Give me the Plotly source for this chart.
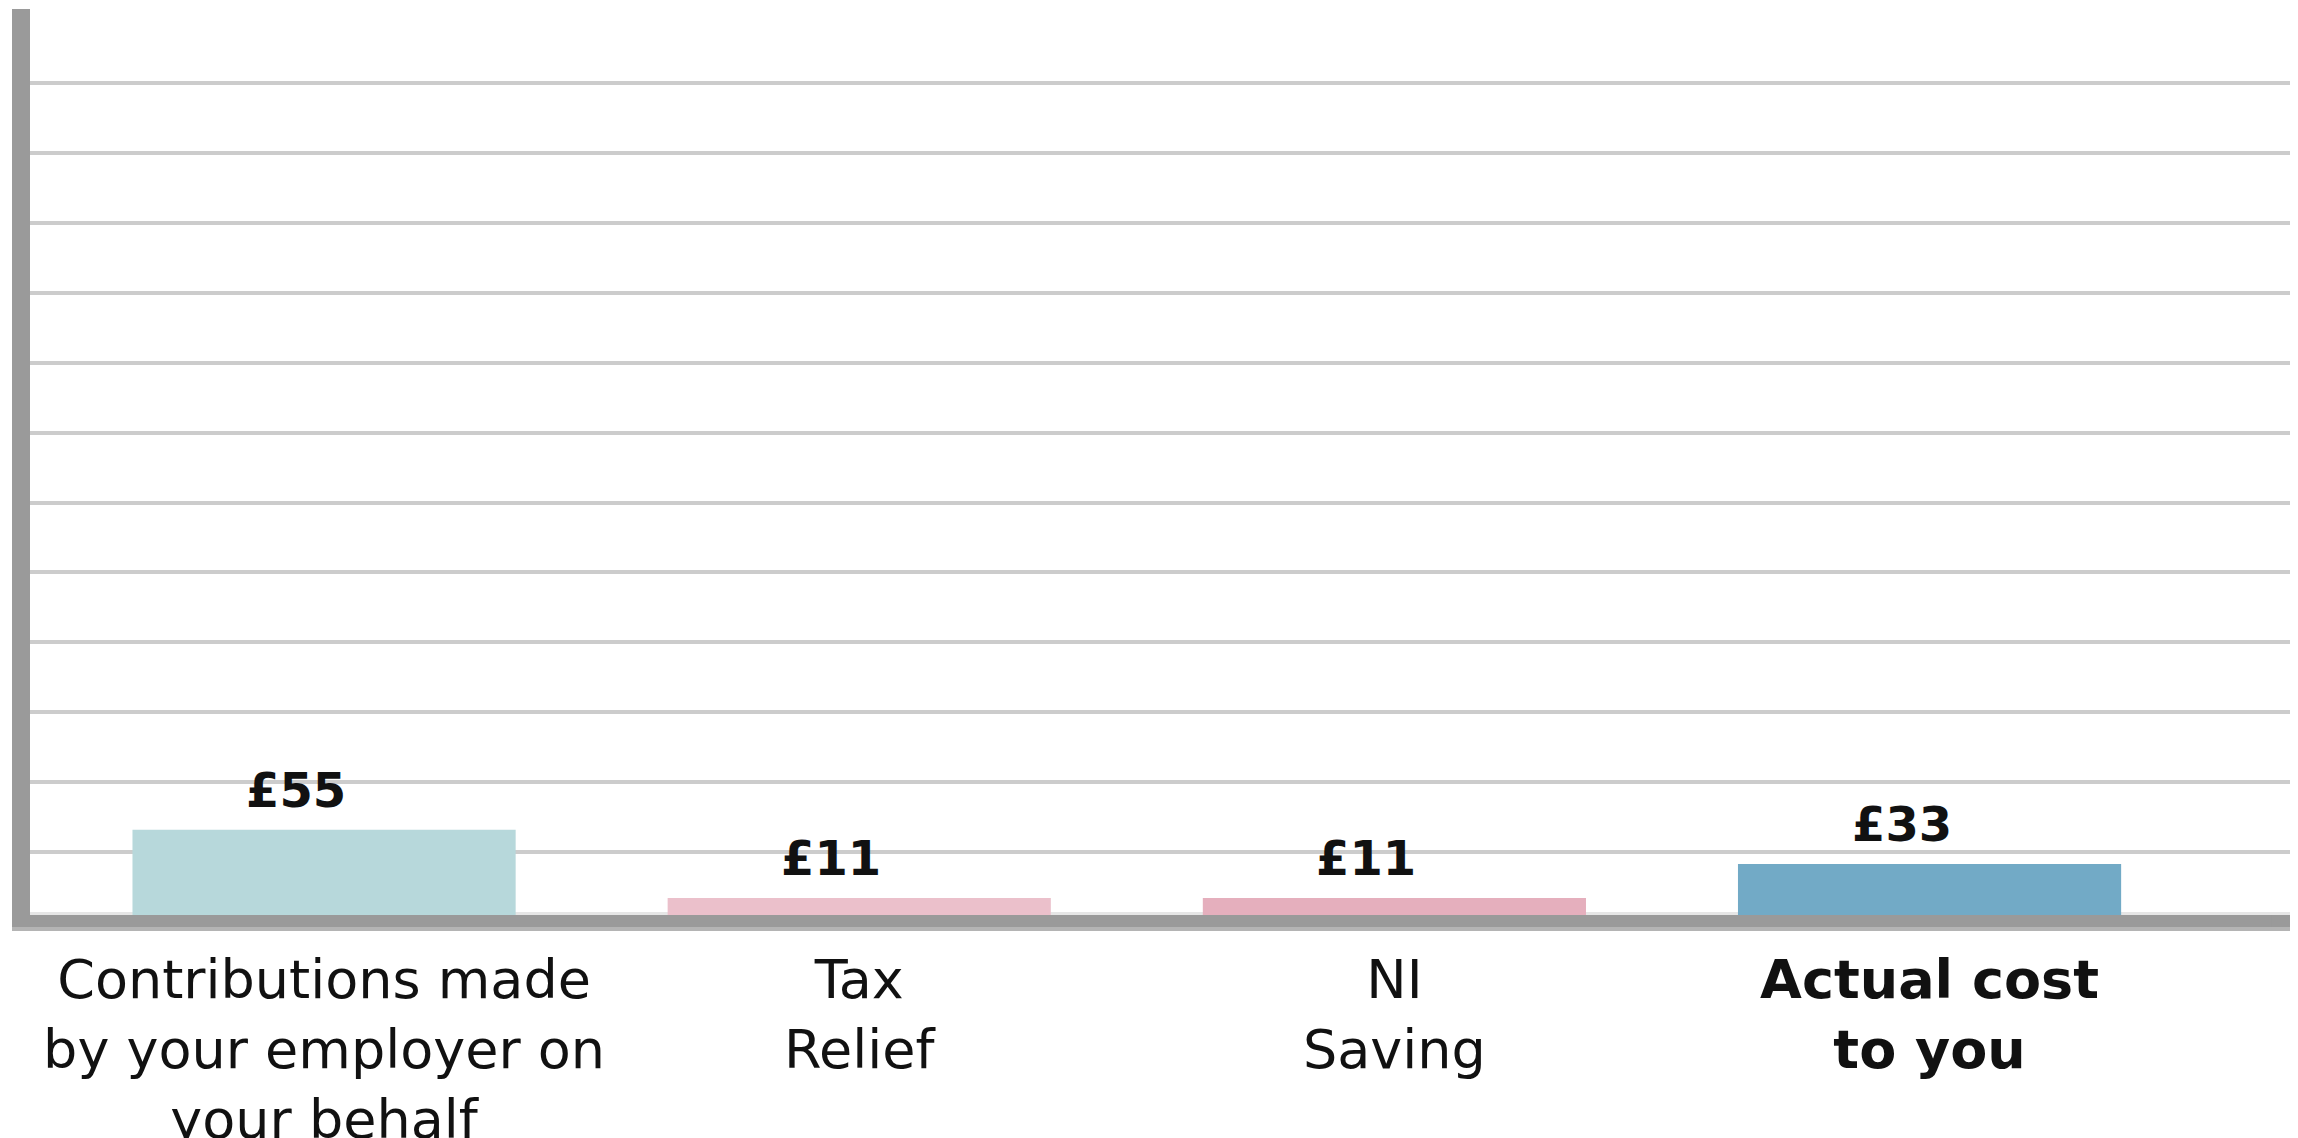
import plotly.graph_objects as go

# ---- data ----
categories = [
    "Contributions made<br>by your employer on<br>your behalf",
    "Tax<br>Relief",
    "NI<br>Saving",
    "<b>Actual cost</b><br><b>to you</b>",
]
values = [55, 11, 11, 33]
bar_colors = ["#B7D8DB", "#EBC0CB", "#E5AFBD", "#72AAC6"]
value_labels = [f"£{v}" for v in values]

# ---- layout constants (page has an 8px body margin) ----
W, H = 2290, 1130
ML, MR, MT, MB = 22, 4, 1, 223
plot_h = H - MT - MB
px_per_unit = 1.549
ymax = plot_h / px_per_unit
grid_first = 63 / px_per_unit
grid_step = 69.9 / px_per_unit
grid_vals = [grid_first + k * grid_step for k in range(12)]
plot_w = W - ML - MR

fig = go.Figure()
fig.add_trace(go.Bar(
    x=categories,
    y=values,
    marker=dict(color=bar_colors, line=dict(width=0)),
    hoverinfo="skip",
))

for c, v, t in zip(categories, values, value_labels):
    fig.add_annotation(
        x=c, y=v, text=f"<b>{t}</b>", showarrow=False,
        yanchor="bottom", xanchor="center", yshift=10, xshift=-28,
        font=dict(family="DejaVu Sans", size=48, color="#111111"),
    )

x_right = (W - ML) / plot_w
x_left_shadow = -18 / plot_w
# light band just above the baseline
fig.add_shape(type="line", xref="paper", yref="y", x0=0, x1=x_right, y0=0, y1=0,
              line=dict(color="#E6E6E6", width=6), layer="below")
# axis extension to the right edge and its shadow
fig.add_shape(type="rect", xref="paper", yref="paper", ysizemode="pixel", yanchor=0,
              x0=0.99, x1=x_right, y0=0, y1=-12,
              line=dict(width=0), fillcolor="#9A9A9A", layer="above")
fig.add_shape(type="rect", xref="paper", yref="paper", ysizemode="pixel", yanchor=0,
              x0=x_left_shadow, x1=x_right, y0=-12, y1=-16,
              line=dict(width=0), fillcolor="#B4B4B4", layer="above")

fig.update_layout(
    width=W, height=H,
    margin=dict(l=ML, r=MR, t=MT, b=MB, pad=0, autoexpand=False),
    paper_bgcolor="white", plot_bgcolor="white",
    bargap=0.284,
    showlegend=False,
    font=dict(family="DejaVu Sans", color="#111111"),
)
fig.update_xaxes(
    type="category",
    range=[-0.5495, 3.681],
    automargin=False,
    showline=True, linecolor="#9A9A9A", linewidth=12,
    showgrid=False, ticks="", zeroline=False,
    tickfont=dict(family="DejaVu Sans", size=54, color="#111111"),
    ticklabelstandoff=6,
    fixedrange=True,
)
fig.update_yaxes(
    range=[0, ymax],
    automargin=False,
    tickmode="array", tickvals=grid_vals,
    showticklabels=False, ticks="",
    showgrid=True, gridcolor="#CCCCCC", gridwidth=4,
    showline=True, linecolor="#9A9A9A", linewidth=18,
    zeroline=False,
    fixedrange=True,
)

fig.write_html("out.html", config={"displayModeBar": False})
